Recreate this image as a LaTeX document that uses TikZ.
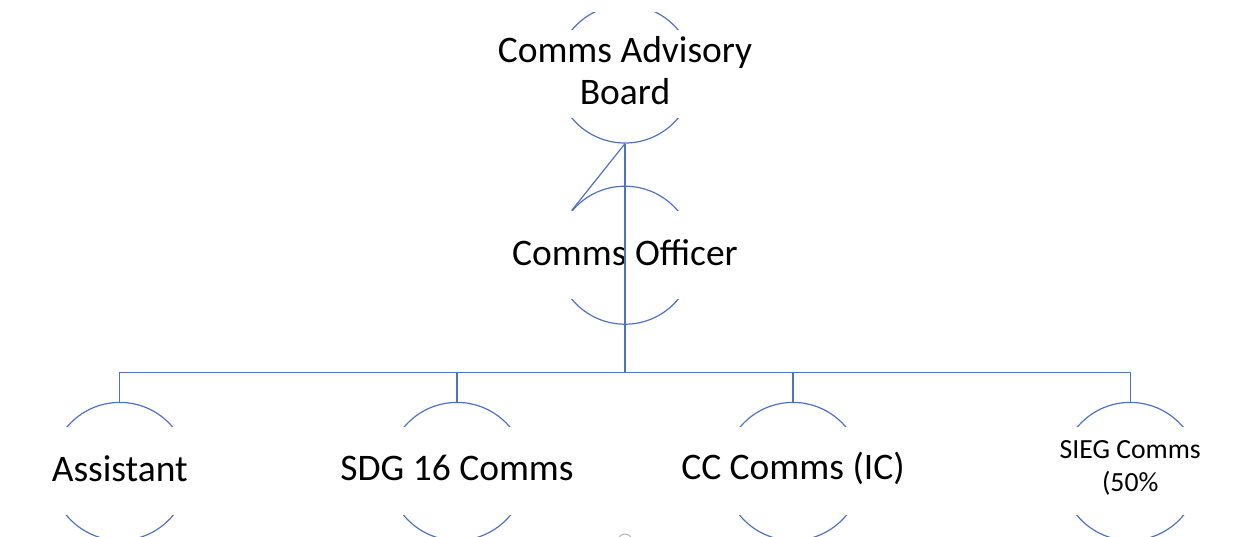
\documentclass[tikz,border=0pt]{standalone}
\usepackage{fontspec}
\setmainfont{Carlito}
\usetikzlibrary{positioning}
\definecolor{linkblue}{RGB}{79,114,190}
\tikzstyle{circ}=[circle,draw=linkblue,line width=1.2pt,minimum size=138pt,inner sep=0pt]
\tikzstyle{band}=[rectangle,fill=white,minimum width=150pt,minimum height=88pt,inner sep=0pt]
\tikzstyle{txt}=[align=center,inner sep=0pt,yshift=3pt,font=\fontsize{37.5}{42}\selectfont]
\tikzstyle{small}=[font=\fontsize{27.7}{33}\selectfont]
\tikzstyle{link}=[draw=linkblue,line width=1.2pt]

\begin{document}
\begin{tikzpicture}[x=1pt,y=-1pt,node distance=42pt]
\useasboundingbox (0,0) rectangle (1246,536);
\begin{scope}
\clip (0,12) rectangle (1246,536);
\node[circ] (board) at (625,74) {};
\node[circ, below=of board] (off) {};
\node[circ, below=77pt of off, xshift=-168pt] (sdg) {};
\node[circ, below=77pt of off, xshift=168pt] (cc) {};
\node[circ, left=198pt of sdg] (asst) {};
\node[circ, right=198pt of cc] (sieg) {};
\foreach \n in {board,off,asst,sdg,cc,sieg}
  \node[band] (\n bg) at (\n) {};
\node[txt] (boardtxt) at (board) {Comms Advisory\\Board};
\node[txt] (offtxt) at (off) {Comms Officer};
\node[txt] (assttxt) at (asst) {Assistant};
\node[txt] (sdgtxt) at (sdg) {SDG 16 Comms};
\node[txt] (cctxt) at (cc) {CC Comms (IC)};
\node[txt, small] (siegtxt) at (sieg) {SIEG Comms\\(50\%};
\coordinate[below=48pt of off.south] (bus);
\draw[link, line width=1.6pt] (board.south) -- (bus);
\draw[link] (board.south) -- (off.140);
\draw[link] (asst.north) |- (bus) -| (sieg.north);
\draw[link] (sdg.north) -- (sdg.north |- bus);
\draw[link] (cc.north) -- (cc.north |- bus);
\draw[gray!60, line width=1pt] (625,541) circle (7);
\end{scope}
\end{tikzpicture}
\end{document}
